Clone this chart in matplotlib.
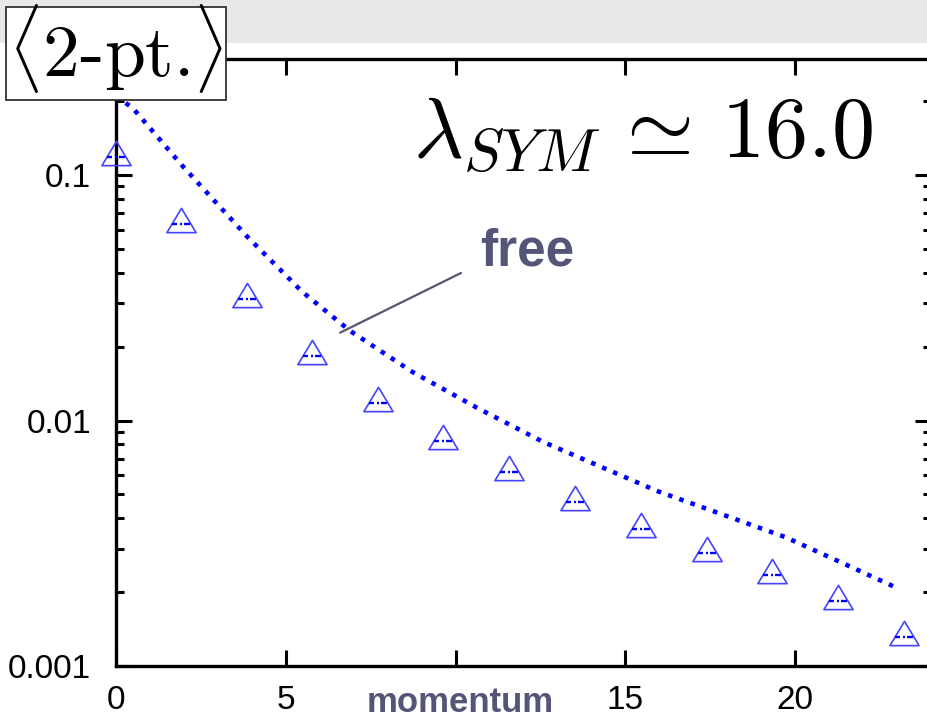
import numpy as np
import matplotlib
matplotlib.use("Agg")
import matplotlib.pyplot as plt
from matplotlib.path import Path
from matplotlib.patches import Rectangle
from matplotlib.ticker import FixedLocator, NullLocator, LogLocator, NullFormatter

plt.rcParams['mathtext.fontset'] = 'cm'
plt.rcParams['font.family'] = ['Liberation Sans', 'DejaVu Sans']

# measured 2-pt function (triangles)
momentum = [0.0, 1.91, 3.86, 5.77, 7.72, 9.63, 11.58, 13.52, 15.46, 17.41, 19.32, 21.27, 23.21]
two_pt = [0.1226, 0.0656, 0.0324, 0.01898, 0.01227, 0.00854, 0.00638,
          0.00484, 0.00377, 0.00301, 0.00243, 0.00191, 0.001366]

# free propagator (dotted curve)
free_x = [0.0, 0.5, 1.94, 3.87, 5.48, 6.89, 8.72, 10.63, 12.58, 15.94, 19.71, 21.28, 23.06]
free_y = [0.21, 0.187, 0.1096, 0.056, 0.0335, 0.0232, 0.0158, 0.01127,
          0.00818, 0.00516, 0.00335, 0.00267, 0.00206]

xticks = [0, 5, 10, 15, 20]
xticklabels = ['0', '5', '', '15', '20']
yticks = [0.001, 0.01, 0.1]
yticklabels = ['0.001', '0.01', '0.1']

blue = '#0000ff'
label_col = '#555577'

fig = plt.figure(figsize=(9.28, 7.18), dpi=100)
fig.patch.set_facecolor('white')

# grey band at the very top
fig.patches.append(Rectangle((0, 1 - 43 / 718), 1, 43 / 718, transform=fig.transFigure,
                             facecolor='#e8e8e8', edgecolor='none', zorder=0))

ax = fig.add_axes([116 / 928, 1 - 666 / 718, 815 / 928, 607 / 718])
ax.set_yscale('log')
ax.set_xlim(0, 24.0)
ax.set_ylim(0.001, 0.297)

# dotted free curve
ax.plot(free_x, free_y, color=blue, lw=3.3, dashes=(1.0, 1.6), dash_capstyle='butt', zorder=2)

# triangle markers with dash-dot bar inside
tri = Path([(0, 1), (-1.2, -1), (1.2, -1), (0, 1)],
           [Path.MOVETO, Path.LINETO, Path.LINETO, Path.CLOSEPOLY])
bar = Path([(1.2, 1.0), (-0.78, -0.3), (-0.3, -0.3), (-0.12, -0.3), (0.06, -0.3),
            (0.25, -0.3), (0.78, -0.3)],
           [Path.MOVETO, Path.MOVETO, Path.LINETO, Path.MOVETO, Path.LINETO,
            Path.MOVETO, Path.LINETO])
ax.plot(momentum, two_pt, ls='none', marker=tri, ms=21, mfc='none',
        mec='#4444ff', mew=1.2, zorder=3, clip_on=False)
ax.plot(momentum, two_pt, ls='none', marker=bar, ms=21, mfc='none',
        mec=blue, mew=1.7, zorder=3, clip_on=False)

# ticks
ax.xaxis.set_major_locator(FixedLocator(xticks))
ax.set_xticklabels(xticklabels)
ax.xaxis.set_minor_locator(NullLocator())
ax.set_yticks(yticks)
ax.set_yticklabels(yticklabels)
ax.yaxis.set_minor_locator(LogLocator(base=10, subs=np.arange(2, 10)))
ax.yaxis.set_minor_formatter(NullFormatter())
ax.tick_params(which='both', direction='in', top=True, right=True, width=2.2,
               labelsize=24, colors='black')
ax.tick_params(which='major', length=11.5)
ax.tick_params(which='minor', length=5.8)
ax.tick_params(axis='x', pad=14)
ax.tick_params(axis='y', pad=18)
for s in ax.spines.values():
    s.set_linewidth(2.4)

# annotation for the free curve
ax.annotate('', xy=(6.6, 0.0228), xytext=(461, 718 - 273), textcoords='figure pixels',
            arrowprops=dict(arrowstyle='-', color=label_col, lw=1.6, shrinkA=0, shrinkB=0))
fig.text(480 / 928, 1 - 265 / 718, 'free', fontsize=37, fontweight='bold',
         color=label_col, ha='left', va='baseline')

fig.text(460 / 928, 1 - 712 / 718, 'momentum', fontsize=25, fontweight='bold',
         color=label_col, ha='center', va='baseline')

fig.text(873 / 928, 1 - 157 / 718, r'$\lambda_{SYM}\,\simeq\,16.0$', fontsize=62,
         ha='right', va='baseline', color='black')

# boxed title
fig.patches.append(Rectangle((6 / 928, 1 - 100 / 718), 220 / 928, 93 / 718,
                             transform=fig.transFigure, facecolor='white',
                             edgecolor='#333333', lw=1.3, zorder=5))
fig.text(116 / 928, 1 - 76 / 718, r'$\langle$2-pt.$\rangle$', fontsize=53,
         family='cmr10', ha='center', va='baseline', zorder=6)

fig.savefig('out.png', dpi=100)
